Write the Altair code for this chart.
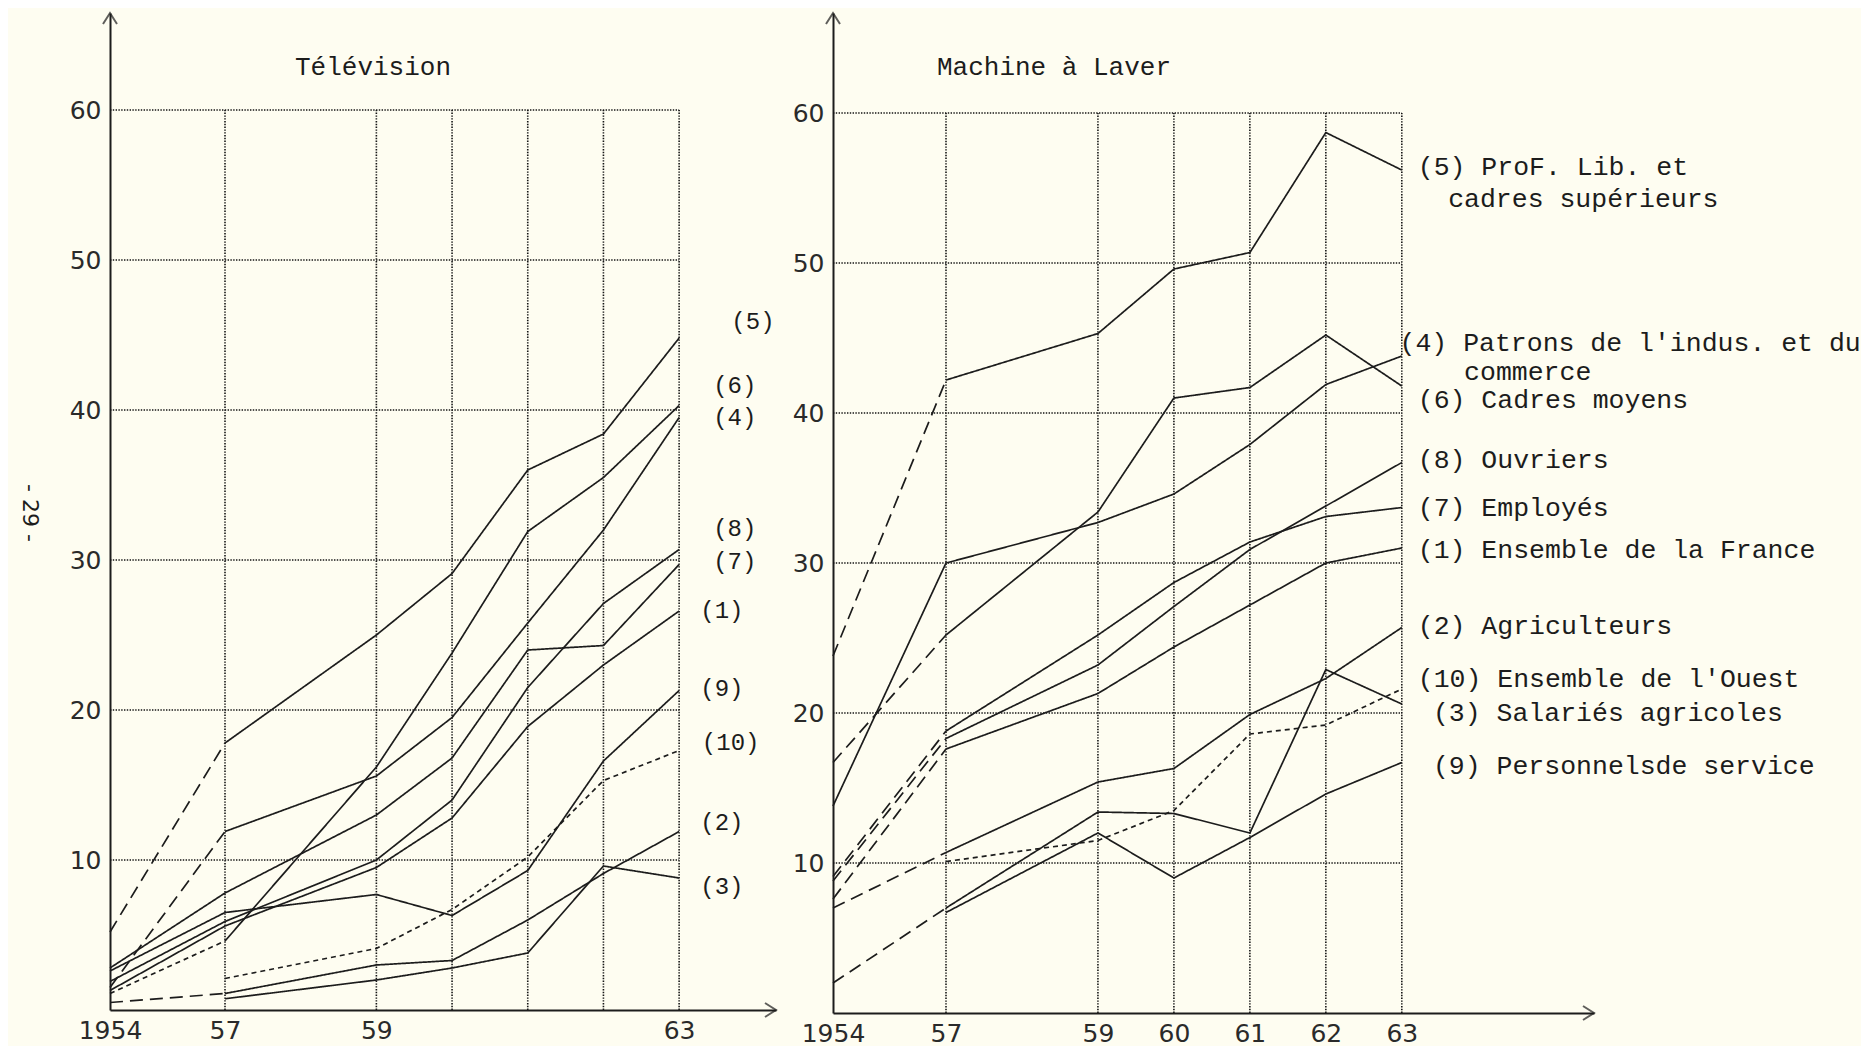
import altair as alt
import pandas as pd

# ---------------- data ----------------
years = [1954, 1957, 1959, 1960, 1961, 1962, 1963]
series = ["(1)", "(2)", "(3)", "(4)", "(5)", "(6)", "(7)", "(8)", "(9)", "(10)"]
grid_years = [1957, 1959, 1960, 1961, 1962, 1963]
grid_values = [10, 20, 30, 40, 50, 60]

# Télévision (% of households)
tv_1 = [1.3, 5.6, 9.5, 12.8, 18.9, 23.0, 26.6]
tv_2 = [0.5, 1.1, 3.0, 3.3, 6.0, 9.1, 11.9]
tv_3 = [None, 0.75, 2.0, 2.8, 3.8, 9.6, 8.8]
tv_4 = [1.5, 11.9, 15.6, 19.5, 25.8, 32.0, 39.5]
tv_5 = [5.2, 17.8, 25.0, 29.1, 36.0, 38.4, 44.8]
tv_6 = [1.1, 4.6, 16.2, 23.8, 31.9, 35.5, 40.3]
tv_7 = [2.8, 7.8, 13.0, 16.8, 24.0, 24.3, 29.7]
tv_8 = [1.9, 5.9, 10.0, 14.0, 21.5, 27.1, 30.7]
tv_9 = [2.6, 6.5, 7.7, 6.3, 9.3, 16.6, 21.3]
tv_10 = [None, 2.1, 4.1, 6.7, 10.2, 15.3, 17.3]
tv_early_style = ["solid", "long", None, "long", "long", "short", "solid", "solid", "solid", None]

# Machine à laver
wm_1 = [7.6, 17.6, 21.3, 24.4, 27.2, 30.0, 31.0]
wm_2 = [7.0, 10.7, 15.4, 16.3, 19.9, 22.3, 25.7]
wm_3 = [2.0, 7.0, 13.4, 13.3, 12.0, 22.9, 20.6]
wm_4 = [13.8, 30.0, 32.7, 34.6, 37.9, 41.9, 43.8]
wm_5 = [23.8, 42.2, 45.3, 49.6, 50.7, 58.7, 56.2]
wm_6 = [16.7, 25.2, 33.4, 41.0, 41.7, 45.2, 41.8]
wm_7 = [9.1, 18.8, 25.2, 28.7, 31.4, 33.1, 33.7]
wm_8 = [8.8, 18.3, 23.2, 27.1, 30.9, 33.8, 36.7]
wm_9 = [None, 6.7, 12.0, 9.0, 11.7, 14.6, 16.7]
wm_10 = [None, 10.1, 11.5, 13.5, 18.6, 19.2, 21.6]
wm_early_style = ["long", "long", "long", "solid", "long", "long", "long", "long", None, None]

# labels
tv_label_text = ["(1)", "(2)", "(3)", "(4)", "(5)", "(6)", "(7)", "(8)", "(9)", "(10)"]
tv_label_x = [1963.28, 1963.28, 1963.28, 1963.45, 1963.69, 1963.45, 1963.45, 1963.45, 1963.28, 1963.30]
tv_label_y = [26.6, 12.5, 8.2, 39.5, 45.9, 41.6, 29.9, 32.1, 21.4, 17.8]

wm_label_text = ["(5) ProF. Lib. et", "cadres supérieurs", "(4) Patrons de l'indus. et du",
                 "commerce", "(6) Cadres moyens", "(8) Ouvriers", "(7) Employés",
                 "(1) Ensemble de la France", "(2) Agriculteurs", "(10) Ensemble de l'Ouest",
                 "(3) Salariés agricoles", "(9) Personnelsde service"]
wm_label_x = [1963.21, 1963.61, 1962.97, 1963.82, 1963.21, 1963.21, 1963.21, 1963.21,
              1963.21, 1963.21, 1963.41, 1963.41]
wm_label_y = [56.4, 54.3, 44.7, 42.75, 40.85, 36.9, 33.7, 30.9, 25.8, 22.3, 20.0, 16.5]

INK = "#1c1c1c"
MONO = "Liberation Mono"


def build_lines(value_lists, early_styles):
    rows = []
    for sid, vals, est in zip(series, value_lists, early_styles):
        if vals[0] is not None:
            for yr, v in zip(years[:2], vals[:2]):
                rows.append({"year": yr, "value": v, "grp": sid + "a", "style": est})
        main_style = "short" if sid == "(10)" else "solid"
        for yr, v in zip(years[1:], vals[1:]):
            rows.append({"year": yr, "value": v, "grp": sid + "b", "style": main_style})
    return pd.DataFrame(rows)


def panel(value_lists, early_styles, lab_text, lab_x, lab_y, lab_size, xticks,
          title, title_x, W, H, x57, xmax, ymax, extra=None):
    xs = alt.Scale(domain=[1954, 1957, xmax], range=[0, x57, W])
    ys = alt.Scale(domain=[0, ymax])
    xa = alt.Axis(values=xticks, title=None, ticks=False, grid=False, labelFlush=False,
                  labelPadding=8,
                  labelExpr="datum.value == 1954 ? '1954' : '' + (datum.value - 1900)")
    ya = alt.Axis(values=grid_values, title=None, ticks=False, grid=False, labelPadding=9)

    def X(f):
        return alt.X(f, scale=xs, axis=xa)

    def Y(f):
        return alt.Y(f, scale=ys, axis=ya)

    vgrid = alt.Chart(pd.DataFrame({"year": grid_years, "lo": 0, "hi": 60})).mark_rule(
        color="#151515", strokeWidth=1.6, strokeDash=[1.4, 1.4]
    ).encode(x=X("year:Q"), y=Y("lo:Q"), y2="hi:Q")

    hgrid = alt.Chart(pd.DataFrame({"value": grid_values, "x0": 1954, "x1": 1963})).mark_rule(
        color="#151515", strokeWidth=1.6, strokeDash=[1.4, 1.4]
    ).encode(y=Y("value:Q"), x=X("x0:Q"), x2="x1:Q")

    lines = alt.Chart(build_lines(value_lists, early_styles)).mark_line(
        color=INK, strokeWidth=1.7
    ).encode(
        x=X("year:Q"), y=Y("value:Q"), detail="grp:N",
        strokeDash=alt.StrokeDash("style:N", legend=None,
                                  scale=alt.Scale(domain=["solid", "long", "short"],
                                                  range=[[1, 0], [13, 7], [5, 4]])),
    )

    up = alt.Chart(pd.DataFrame({"year": [1954], "value": [ymax]})).mark_point(
        shape="M-0.7,1.1L0,0L0.7,1.1", filled=False, size=400, strokeWidth=2, color=INK
    ).encode(x=X("year:Q"), y=Y("value:Q"))

    right = alt.Chart(pd.DataFrame({"year": [xmax], "value": [0]})).mark_point(
        shape="M-1.1,-0.7L0,0L-1.1,0.7", filled=False, size=400, strokeWidth=2, color=INK
    ).encode(x=X("year:Q"), y=Y("value:Q"))

    labels = alt.Chart(pd.DataFrame({"t": lab_text, "lx": lab_x, "ly": lab_y})).mark_text(
        align="left", baseline="middle", font=MONO, fontSize=lab_size, color=INK
    ).encode(x=X("lx:Q"), y=Y("ly:Q"), text="t:N")

    ttl = alt.Chart(pd.DataFrame({"t": [title]})).mark_text(
        align="center", baseline="middle", font=MONO, fontSize=26, color=INK
    ).encode(x=alt.value(title_x), y=alt.value(54), text="t:N")

    layers = [vgrid, hgrid, lines, up, right, labels, ttl]
    if extra is not None:
        layers.append(extra)
    return alt.layer(*layers).properties(width=W, height=H)


page_no = alt.Chart(pd.DataFrame({"t": ["- 29 -"]})).mark_text(
    align="center", baseline="middle", font="DejaVu Sans", fontSize=22, angle=90, color=INK
).encode(x=alt.value(-80), y=alt.value(500), text="t:N")

left = panel([tv_1, tv_2, tv_3, tv_4, tv_5, tv_6, tv_7, tv_8, tv_9, tv_10], tv_early_style,
             tv_label_text, tv_label_x, tv_label_y, 24, [1954, 1957, 1959, 1963],
             "Télévision", 263, 666, 997, 115, 1964.28, 66.47, extra=page_no)

right_p = panel([wm_1, wm_2, wm_3, wm_4, wm_5, wm_6, wm_7, wm_8, wm_9, wm_10], wm_early_style,
                wm_label_text, wm_label_x, wm_label_y, 26.5, years,
                "Machine à Laver", 221, 761, 1000, 113, 1965.53, 66.67)

chart = alt.hconcat(left, right_p, spacing=57, bounds="flush").properties(
    padding={"left": 11, "top": 1, "right": 0, "bottom": 0}
).configure(background="#FEFDF1").configure_view(stroke=None).configure_axis(
    domainColor=INK, domainWidth=2, labelFont="DejaVu Sans", labelFontSize=25,
    labelColor="#2a2a2a"
)

chart.save("out.html", embed_options={"renderer": "svg", "actions": False})
